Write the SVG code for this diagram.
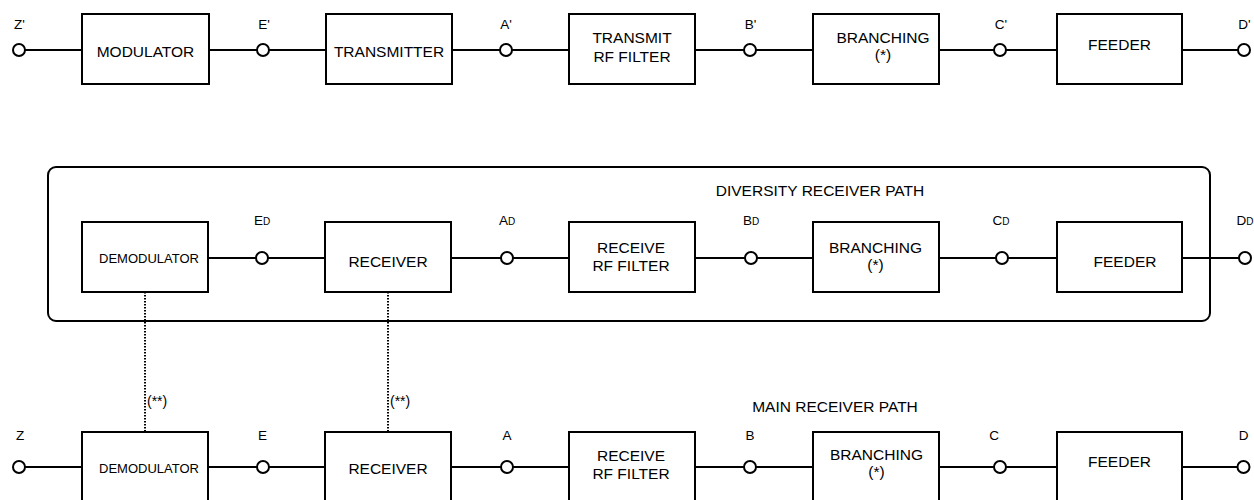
<svg xmlns="http://www.w3.org/2000/svg" width="1254" height="500" viewBox="0 0 1254 500">
<style>
.box{fill:#fff;stroke:#000;stroke-width:2}
.wire{stroke:#000;stroke-width:2;fill:none}
.dot{stroke:#000;stroke-width:2;stroke-dasharray:1.5 1.5;fill:none}
.term{fill:#fff;stroke:#000;stroke-width:2}
.frame{fill:none;stroke:#000;stroke-width:2}
text{font-family:"Liberation Sans",Arial,sans-serif;fill:#000}
.bl{font-size:15.5px;text-anchor:middle}
.bs{font-size:13px;text-anchor:middle}
.pl{font-size:13.5px;text-anchor:middle}
.sub{font-size:10px}
.note{font-size:14px}
</style>
<rect width="1254" height="500" fill="#fff"/>
<g id="diversity-frame"><rect class="frame" x="48" y="167" width="1162" height="154" rx="8"/>
<text class="bl" x="820" y="196">DIVERSITY RECEIVER PATH</text></g>
<text id="main-path-label" class="bl" x="835" y="412">MAIN RECEIVER PATH</text>
<g id="connectors">
<line class="wire" x1="19" y1="50" x2="1244" y2="50"/>
<line class="wire" x1="208" y1="258" x2="1245" y2="258"/>
<line class="wire" x1="19" y1="467" x2="1244" y2="467"/>
<line class="dot" x1="145" y1="292" x2="145" y2="432"/>
<line class="dot" x1="388" y1="292" x2="388" y2="432"/>
<text class="note" x="147" y="406">(**)</text>
<text class="note" x="390" y="406">(**)</text>
</g>
<g id="tx-modulator"><rect class="box" x="82" y="14" width="127" height="70"/><text class="bl" x="145.5" y="57">MODULATOR</text></g>
<g id="tx-transmitter"><rect class="box" x="326" y="14" width="126" height="70"/><text class="bl" x="389" y="57">TRANSMITTER</text></g>
<g id="tx-filter"><rect class="box" x="569" y="14" width="126" height="70"/><text class="bl" x="632" y="43">TRANSMIT</text><text class="bl" x="632" y="61.5">RF FILTER</text></g>
<g id="tx-branching"><rect class="box" x="813" y="14" width="126" height="70"/><text class="bl" x="883" y="43">BRANCHING</text><text class="bl" x="883" y="60">(*)</text></g>
<g id="tx-feeder"><rect class="box" x="1057" y="14" width="125" height="70"/><text class="bl" x="1119.5" y="50">FEEDER</text></g>
<g id="dv-demodulator"><rect class="box" x="82" y="222" width="126" height="70"/><text class="bs" x="149" y="263">DEMODULATOR</text></g>
<g id="dv-receiver"><rect class="box" x="325" y="222" width="126" height="70"/><text class="bl" x="388" y="266.5">RECEIVER</text></g>
<g id="dv-filter"><rect class="box" x="569" y="222" width="126" height="70"/><text class="bl" x="631" y="252.5">RECEIVE</text><text class="bl" x="631" y="270.5">RF FILTER</text></g>
<g id="dv-branching"><rect class="box" x="813" y="222" width="126" height="70"/><text class="bl" x="875.5" y="253">BRANCHING</text><text class="bl" x="875.5" y="270">(*)</text></g>
<g id="dv-feeder"><rect class="box" x="1057" y="222" width="125" height="70"/><text class="bl" x="1125" y="267">FEEDER</text></g>
<g id="mn-demodulator"><rect class="box" x="82" y="432" width="126" height="72"/><text class="bs" x="149" y="472.5">DEMODULATOR</text></g>
<g id="mn-receiver"><rect class="box" x="325" y="432" width="126" height="72"/><text class="bl" x="388" y="474">RECEIVER</text></g>
<g id="mn-filter"><rect class="box" x="569" y="432" width="126" height="72"/><text class="bl" x="631" y="461">RECEIVE</text><text class="bl" x="631" y="479">RF FILTER</text></g>
<g id="mn-branching"><rect class="box" x="813" y="432" width="126" height="72"/><text class="bl" x="876.5" y="460">BRANCHING</text><text class="bl" x="876.5" y="477">(*)</text></g>
<g id="mn-feeder"><rect class="box" x="1057" y="432" width="125" height="72"/><text class="bl" x="1119.5" y="467">FEEDER</text></g>
<g id="tx-points">
<circle class="term" cx="19" cy="50" r="6"/><text class="pl" x="19.5" y="29">Z'</text>
<circle class="term" cx="263" cy="50" r="6"/><text class="pl" x="264" y="29">E'</text>
<circle class="term" cx="506" cy="50" r="6"/><text class="pl" x="506" y="29">A'</text>
<circle class="term" cx="750" cy="50" r="6"/><text class="pl" x="750.5" y="29">B'</text>
<circle class="term" cx="1000" cy="50" r="6"/><text class="pl" x="1001" y="29">C'</text>
<circle class="term" cx="1244" cy="50" r="6"/><text class="pl" x="1244.5" y="29">D'</text>
</g>
<g id="dv-points">
<circle class="term" cx="262" cy="258" r="6"/><text class="pl" x="262" y="225">E<tspan class="sub">D</tspan></text>
<circle class="term" cx="507" cy="258" r="6"/><text class="pl" x="507" y="225">A<tspan class="sub">D</tspan></text>
<circle class="term" cx="751" cy="258" r="6"/><text class="pl" x="751" y="225">B<tspan class="sub">D</tspan></text>
<circle class="term" cx="1002" cy="258" r="6"/><text class="pl" x="1001" y="225">C<tspan class="sub">D</tspan></text>
<circle class="term" cx="1245" cy="258" r="6"/><text class="pl" x="1245" y="225">D<tspan class="sub">D</tspan></text>
</g>
<g id="mn-points">
<circle class="term" cx="19" cy="467" r="6"/><text class="pl" x="20" y="440">Z</text>
<circle class="term" cx="263" cy="467" r="6"/><text class="pl" x="262.5" y="440">E</text>
<circle class="term" cx="507" cy="467" r="6"/><text class="pl" x="507" y="440">A</text>
<circle class="term" cx="750" cy="467" r="6"/><text class="pl" x="750" y="440">B</text>
<circle class="term" cx="1000" cy="467" r="6"/><text class="pl" x="994" y="440">C</text>
<circle class="term" cx="1243.5" cy="467" r="6"/><text class="pl" x="1243.5" y="440">D</text>
</g>
</svg>
